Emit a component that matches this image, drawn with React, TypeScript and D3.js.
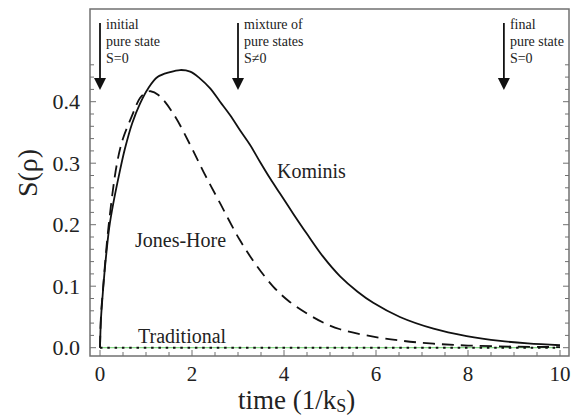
import React from "react";
import * as d3 from "d3";

const kominisT = [0, 0.02, 0.05, 0.11, 0.2, 0.29, 0.42, 0.54, 0.7, 0.87, 1.05, 1.25, 1.52, 1.74, 1.96, 2.17, 2.39, 2.61, 2.83, 3.04, 3.26, 3.48, 3.7, 3.91, 4.2, 4.49, 4.85, 5.22, 5.6, 5.94, 6.52, 7.25, 7.97, 8.7, 9.3, 10];
const kominisS = [0, 0.045, 0.078, 0.132, 0.195, 0.235, 0.283, 0.323, 0.365, 0.397, 0.422, 0.44, 0.448, 0.4515, 0.449, 0.438, 0.422, 0.4, 0.378, 0.354, 0.33, 0.302, 0.275, 0.251, 0.218, 0.186, 0.148, 0.116, 0.091, 0.073, 0.05, 0.031, 0.019, 0.011, 0.007, 0.004];

const jonesT = [0, 0.02, 0.07, 0.19, 0.37, 0.5, 0.69, 0.87, 1.0, 1.1, 1.27, 1.59, 1.96, 2.25, 2.61, 3.04, 3.4, 3.77, 4.1, 4.49, 4.85, 5.22, 5.94, 6.6, 7.25, 8, 9, 10];
const jonesS = [0, 0.05, 0.1, 0.2, 0.3, 0.34, 0.376, 0.406, 0.415, 0.417, 0.411, 0.381, 0.33, 0.286, 0.235, 0.175, 0.134, 0.099, 0.076, 0.056, 0.041, 0.03, 0.018, 0.011, 0.0065, 0.0035, 0.0018, 0.001];

const traditionalT = [0, 10];
const traditionalS = [0, 0];

const xTickLabels = [0, 2, 4, 6, 8, 10];
const yTickLabels = [0.0, 0.1, 0.2, 0.3, 0.4];

const arrowTimes = [0, 3, 8.78];
const arrowTexts = [
  ["initial", "pure state", "S=0"],
  ["mixture of", "pure states", "S\u22600"],
  ["final", "pure state", "S=0"],
];

const W = 573;
const H = 415;
const frame = { left: 90, right: 569, top: 9, bottom: 356 };
const FONT = '"Liberation Serif"';

function T(props: any) {
  const { children, ...rest } = props;
  return (
    <text {...rest} fontFamily="Liberation Serif" style={{ fontFamily: FONT }} fill="#222">
      {children}
    </text>
  );
}

export default function App() {
  const x = d3.scaleLinear().domain([0, 10]).range([100, 560]);
  const y = d3.scaleLinear().domain([0, 0.4]).range([347.7, 101.7]);

  const line = d3
    .line<[number, number]>()
    .x((d) => x(d[0]))
    .y((d) => y(d[1]))
    .curve(d3.curveCatmullRom.alpha(0.5));

  const kom = line(kominisT.map((t, i) => [t, kominisS[i]]) as [number, number][]) || "";
  const jh = line(jonesT.map((t, i) => [t, jonesS[i]]) as [number, number][]) || "";
  const trad = line(traditionalT.map((t, i) => [t, traditionalS[i]]) as [number, number][]) || "";

  const yMinor = d3.range(0, 24).map((i) => i * 0.02);
  const xMinor = d3.range(0, 21).map((i) => i * 0.5);

  const axisColor = "#707070";

  return (
    <svg width={W} height={H} style={{ position: "fixed", left: 0, top: 0, display: "block", background: "#fff" }}>
      <rect
        x={frame.left}
        y={frame.top}
        width={frame.right - frame.left}
        height={frame.bottom - frame.top}
        fill="none"
        stroke={axisColor}
        strokeWidth={1.5}
      />
      {yMinor.map((v, i) => {
        const major = i % 5 === 0;
        const len = major ? 6 : 4;
        return (
          <g key={"yt" + i}>
            <line x1={frame.left} x2={frame.left + len} y1={y(v)} y2={y(v)} stroke={axisColor} strokeWidth={1} />
            <line x1={frame.right} x2={frame.right - len} y1={y(v)} y2={y(v)} stroke={axisColor} strokeWidth={1} />
          </g>
        );
      })}
      {xMinor.map((t, i) => {
        const major = i % 4 === 0;
        const len = major ? 6 : 4;
        return (
          <line key={"xt" + i} x1={x(t)} x2={x(t)} y1={frame.bottom} y2={frame.bottom - len} stroke={axisColor} strokeWidth={1} />
        );
      })}
      {yTickLabels.map((v) => (
        <T key={"yl" + v} x={80} y={y(v) + 7.5} textAnchor="end" fontSize={22}>
          {v.toFixed(1)}
        </T>
      ))}
      {xTickLabels.map((t) => (
        <T key={"xl" + t} x={x(t)} y={381} textAnchor="middle" fontSize={21}>
          {t}
        </T>
      ))}
      <T x={238} y={409} fontSize={27}>
        time (1/k<tspan fontSize={18} dy={3}>S</tspan>
        <tspan dy={-3}>)</tspan>
      </T>
      <T transform={`translate(37,173) rotate(-90)`} textAnchor="middle" fontSize={28}>
        S(ρ)
      </T>
      <path d={trad} fill="none" stroke="#86d886" strokeWidth={1.2} />
      <path d={trad} fill="none" stroke="#111" strokeWidth={2} strokeDasharray="2.5 4.8" />
      <path d={jh} fill="none" stroke="#111" strokeWidth={1.8} strokeDasharray="12 7" />
      <path d={kom} fill="none" stroke="#111" strokeWidth={1.8} />
      <T x={277} y={178} fontSize={20}>Kominis</T>
      <T x={135} y={247} fontSize={20}>Jones-Hore</T>
      <T x={138} y={343} fontSize={20}>Traditional</T>
      {arrowTimes.map((t, i) => {
        const ax = x(t);
        return (
          <g key={"ar" + i}>
            <line x1={ax} x2={ax} y1={23} y2={80} stroke="#111" strokeWidth={1.8} />
            <path d={`M${ax - 6},78 L${ax + 6},78 L${ax},90 Z`} fill="#111" />
            {arrowTexts[i].map((s, j) => (
              <T key={j} x={ax + 6} y={29 + j * 17} fontSize={14}>
                {s}
              </T>
            ))}
          </g>
        );
      })}
    </svg>
  );
}
